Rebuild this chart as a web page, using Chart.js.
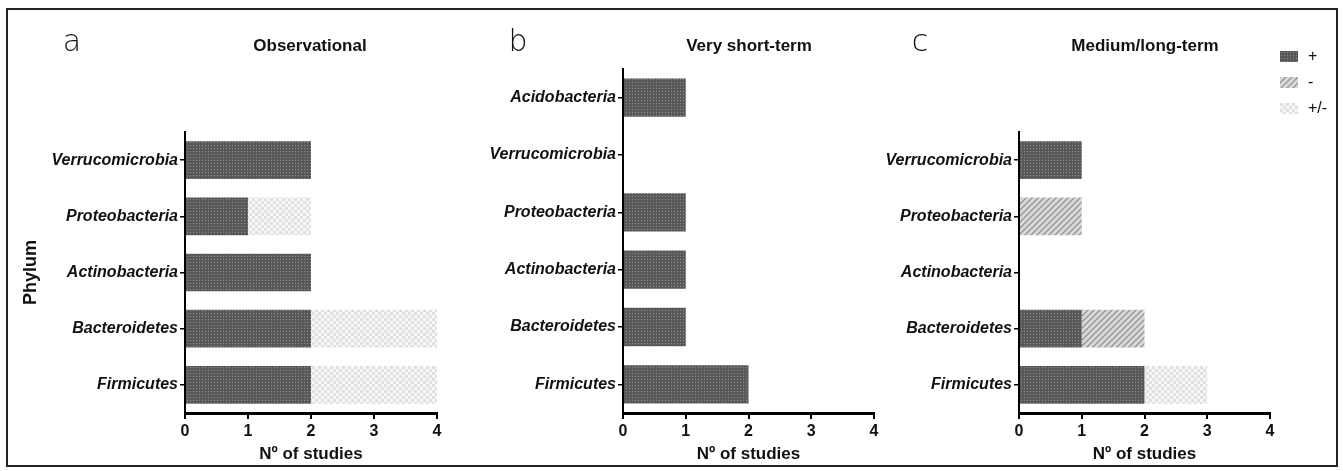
<!DOCTYPE html>
<html>
<head>
<meta charset="utf-8">
<title>Phylum changes</title>
<script src="https://cdn.jsdelivr.net/npm/chart.js"></script>
<style>
  body { margin: 0; background: #fff; font-family: "Liberation Sans", Arial, sans-serif; }
  #wrap { position: relative; width: 1343px; height: 471px; overflow: hidden; }
  .frame { position: absolute; left: 6px; top: 8px; width: 1332px; height: 459px; box-sizing: border-box; border: 2px solid #222; }
  canvas.panel { position: absolute; top: 0; }
  .lbl { position: absolute; transform: translate(-50%, -50%); white-space: nowrap; color: #111; }
  .letter { font-family: "DejaVu Sans", sans-serif; font-weight: 200; font-size: 30px; }
  .ptitle { font-weight: bold; font-size: 17px; }
  .leg { position: absolute; left: 1280px; font-size: 16px; color: #111; }
  .leg canvas { position: absolute; left: 0; top: 0; }
  .leg span { position: absolute; left: 28px; top: -4px; }
</style>
</head>
<body>
<div id="wrap">
  <div class="frame"></div>
  <canvas id="chartA" class="panel" width="460" height="471" style="left:0px"></canvas>
  <canvas id="chartB" class="panel" width="440" height="471" style="left:460px"></canvas>
  <canvas id="chartC" class="panel" width="430" height="471" style="left:870px"></canvas>

  <div class="lbl letter" style="left:72px;top:40px">a</div>
  <div class="lbl ptitle" style="left:310px;top:46px">Observational</div>
  <div class="lbl letter" style="left:518px;top:40px">b</div>
  <div class="lbl ptitle" style="left:749px;top:46px">Very short-term</div>
  <div class="lbl letter" style="left:920px;top:40px">c</div>
  <div class="lbl ptitle" style="left:1145px;top:46px">Medium/long-term</div>

  <div class="leg" style="top:51px"><canvas id="swPlus" width="18" height="11"></canvas><span>+</span></div>
  <div class="leg" style="top:77px"><canvas id="swMinus" width="18" height="11"></canvas><span>-</span></div>
  <div class="leg" style="top:103px"><canvas id="swPm" width="18" height="11"></canvas><span>+/-</span></div>
</div>

<script>
// panel a - observational studies
var catsA = ['Verrucomicrobia', 'Proteobacteria', 'Actinobacteria', 'Bacteroidetes', 'Firmicutes'];
var plusA = [2, 1, 2, 2, 2];
var minusA = [0, 0, 0, 0, 0];
var pmA = [0, 1, 0, 2, 2];

// panel b - very short-term
var catsB = ['Acidobacteria', 'Verrucomicrobia', 'Proteobacteria', 'Actinobacteria', 'Bacteroidetes', 'Firmicutes'];
var plusB = [1, 0, 1, 1, 1, 2];
var minusB = [0, 0, 0, 0, 0, 0];
var pmB = [0, 0, 0, 0, 0, 0];

// panel c - medium/long-term
var catsC = ['Verrucomicrobia', 'Proteobacteria', 'Actinobacteria', 'Bacteroidetes', 'Firmicutes'];
var plusC = [1, 0, 0, 1, 2];
var minusC = [0, 1, 0, 1, 0];
var pmC = [0, 0, 0, 0, 1];

var xTicks = [0, 1, 2, 3, 4];
var seriesNames = ['+', '-', '+/-'];

// small tiles used as bar fills
function makeTile(kind) {
    var c = document.createElement('canvas');
    var g = c.getContext('2d');
    if (kind === 'plus') {
        c.width = 3; c.height = 3;
        g.fillStyle = '#595959'; g.fillRect(0, 0, 3, 3);
        g.fillStyle = '#8c8c8c'; g.fillRect(1, 1, 1, 1);
    } else if (kind === 'minus') {
        c.width = 6; c.height = 6;
        g.fillStyle = '#dadada'; g.fillRect(0, 0, 6, 6);
        g.strokeStyle = '#9a9a9a'; g.lineWidth = 1.5;
        g.beginPath();
        g.moveTo(-1, 7); g.lineTo(7, -1);
        g.moveTo(-1, 1); g.lineTo(1, -1);
        g.moveTo(5, 7); g.lineTo(7, 5);
        g.stroke();
    } else {
        c.width = 6; c.height = 6;
        g.fillStyle = '#f7f7f7'; g.fillRect(0, 0, 6, 6);
        g.fillStyle = '#e0e0e0'; g.fillRect(0, 0, 3, 3); g.fillRect(3, 3, 3, 3);
    }
    return c;
}

var tiles = { plus: makeTile('plus'), minus: makeTile('minus'), pm: makeTile('pm') };

function patternFor(kind) {
    return function (ctx) {
        var g = ctx.chart.ctx;
        if (!ctx.chart.$pats) ctx.chart.$pats = {};
        if (!ctx.chart.$pats[kind]) ctx.chart.$pats[kind] = g.createPattern(tiles[kind], 'repeat');
        return ctx.chart.$pats[kind];
    };
}

// legend swatches
[['swPlus', 'plus'], ['swMinus', 'minus'], ['swPm', 'pm']].forEach(function (p) {
    var g = document.getElementById(p[0]).getContext('2d');
    g.fillStyle = g.createPattern(tiles[p[1]], 'repeat');
    g.fillRect(0, 0, 18, 11);
});

function makePanel(id, cats, plus, minus, pm, yWidth, topPad, rightPad, showPhylum) {
    new Chart(document.getElementById(id), {
        type: 'bar',
        data: {
            labels: cats,
            datasets: [
                { label: seriesNames[0], data: plus, backgroundColor: patternFor('plus') },
                { label: seriesNames[1], data: minus, backgroundColor: patternFor('minus') },
                { label: seriesNames[2], data: pm, backgroundColor: patternFor('pm') }
            ]
        },
        options: {
            indexAxis: 'y',
            responsive: false,
            animation: false,
            layout: { padding: { top: topPad, right: rightPad, left: 0, bottom: 0 } },
            datasets: { bar: { categoryPercentage: 1, barPercentage: 0.67, borderWidth: 0 } },
            plugins: { legend: { display: false }, tooltip: { enabled: false } },
            scales: {
                x: {
                    stacked: true,
                    min: 0,
                    max: 4,
                    afterBuildTicks: function (s) { s.ticks = xTicks.map(function (v) { return { value: v }; }); },
                    afterFit: function (s) { s.height = 58; },
                    grid: { drawOnChartArea: false, tickLength: 6, color: '#000', lineWidth: 2 },
                    border: { color: '#000', width: 3 },
                    ticks: { color: '#111', padding: 3, font: { family: 'Liberation Sans', size: 16, weight: 'bold' } },
                    title: {
                        display: true,
                        text: 'Nº of studies',
                        color: '#111',
                        padding: { top: 0, bottom: 6 },
                        font: { family: 'Liberation Sans', size: 17, weight: 'bold' }
                    }
                },
                y: {
                    stacked: true,
                    afterFit: function (s) { s.width = yWidth; },
                    grid: { drawOnChartArea: false, offset: false, tickLength: 5, color: '#000', lineWidth: 1.5 },
                    border: { color: '#000', width: 2 },
                    ticks: { color: '#111', padding: 2, font: { family: 'Liberation Sans', size: 16, weight: 'bold', style: 'italic' } },
                    title: {
                        display: showPhylum,
                        text: 'Phylum',
                        color: '#111',
                        padding: { top: 20, bottom: 0 },
                        font: { family: 'Liberation Sans', size: 18, weight: 'bold' }
                    }
                }
            }
        }
    });
}

makePanel('chartA', catsA, plusA, minusA, pmA, 185, 132, 23, true);
makePanel('chartB', catsB, plusB, minusB, pmB, 163, 69, 26, false);
makePanel('chartC', catsC, plusC, minusC, pmC, 149, 132, 30, false);
</script>
</body>
</html>
